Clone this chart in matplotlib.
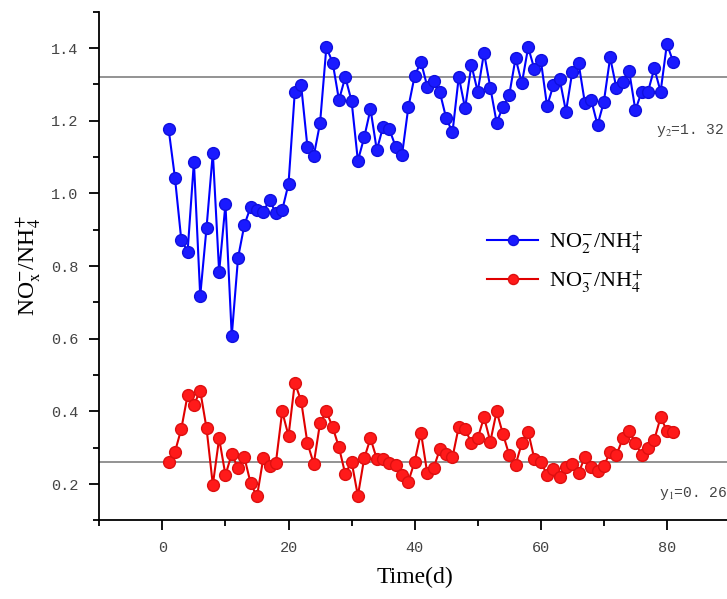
import numpy as np
import matplotlib
matplotlib.use("Agg")
import matplotlib.pyplot as plt
from matplotlib.ticker import MultipleLocator

plt.rcParams['font.family'] = ['Liberation Serif', 'DejaVu Serif']
plt.rcParams['mathtext.fontset'] = 'stix'

# Data
days = list(range(1, 82))

no2_nh4 = [1.176, 1.042, 0.872, 0.840, 1.087, 0.718, 0.905, 1.112, 0.784, 0.970,
           0.608, 0.823, 0.913, 0.963, 0.954, 0.950, 0.982, 0.945, 0.954, 1.026,
           1.280, 1.298, 1.128, 1.103, 1.193, 1.402, 1.360, 1.257, 1.320, 1.254,
           1.090, 1.154, 1.232, 1.119, 1.184, 1.176, 1.128, 1.106, 1.237, 1.323,
           1.362, 1.294, 1.309, 1.278, 1.207, 1.168, 1.321, 1.234, 1.353, 1.280,
           1.387, 1.291, 1.195, 1.238, 1.271, 1.372, 1.303, 1.402, 1.341, 1.367,
           1.240, 1.298, 1.314, 1.225, 1.335, 1.358, 1.248, 1.257, 1.188, 1.252,
           1.374, 1.289, 1.307, 1.338, 1.229, 1.280, 1.280, 1.344, 1.280, 1.411,
           1.362]

no3_nh4 = [0.262, 0.289, 0.352, 0.445, 0.418, 0.457, 0.354, 0.198, 0.326, 0.225,
           0.283, 0.244, 0.274, 0.202, 0.166, 0.271, 0.250, 0.259, 0.400, 0.333,
           0.479, 0.429, 0.313, 0.256, 0.368, 0.400, 0.357, 0.301, 0.228, 0.262,
           0.168, 0.271, 0.326, 0.269, 0.269, 0.257, 0.253, 0.225, 0.207, 0.262,
           0.342, 0.230, 0.244, 0.296, 0.283, 0.274, 0.358, 0.352, 0.313, 0.326,
           0.384, 0.317, 0.400, 0.338, 0.280, 0.253, 0.313, 0.344, 0.268, 0.262,
           0.225, 0.241, 0.220, 0.248, 0.256, 0.230, 0.276, 0.248, 0.237, 0.250,
           0.289, 0.280, 0.326, 0.347, 0.313, 0.280, 0.299, 0.322, 0.384, 0.347,
           0.344]

# mean lines
y2_mean = 1.32
y1_mean = 0.26

fig = plt.figure(figsize=(7.27, 5.99), dpi=100)
ax = fig.add_axes([0.1366, 0.1311, 0.8675, 0.8494])

ax.axhline(y2_mean, color='#808080', lw=1.2, zorder=1)
ax.axhline(y1_mean, color='#808080', lw=1.2, zorder=1)

ax.plot(days, no2_nh4, color='#0000ff', lw=1.5, marker='o', markersize=8.5,
        markeredgecolor='#1010dd', markerfacecolor='#1a1aff',
        label=r'NO$_2^{-}$/NH$_4^{+}$', zorder=3)
ax.plot(days, no3_nh4, color='#e00000', lw=1.5, marker='o', markersize=8.5,
        markeredgecolor='#dd1010', markerfacecolor='#ff1a1a',
        label=r'NO$_3^{-}$/NH$_4^{+}$', zorder=3)

ax.set_xlim(-10, 90)
ax.set_ylim(0.1, 1.5)
ax.xaxis.set_minor_locator(MultipleLocator(10))
ax.yaxis.set_minor_locator(MultipleLocator(0.1))
ax.set_xticks([0, 20, 40, 60, 80])
ax.set_yticks([0.2, 0.4, 0.6, 0.8, 1.0, 1.2, 1.4])

ax.spines['top'].set_visible(False)
ax.spines['right'].set_visible(False)
ax.spines['left'].set_linewidth(1.3)
ax.spines['bottom'].set_linewidth(1.3)

ax.tick_params(which='major', direction='out', length=7, width=1.3,
               labelsize=11, labelcolor='#444444', pad=8)
ax.tick_params(which='minor', direction='out', length=4, width=1.3)
for lab in ax.get_xticklabels() + ax.get_yticklabels():
    lab.set_family('Liberation Mono')

ax.set_xlabel('Time(d)', fontsize=17, labelpad=8)
ax.set_ylabel(r'NO$_\mathrm{x}^{-}$/NH$_4^{+}$', fontsize=17, labelpad=6)

ax.text(78.2, 1.172, r'y$_2$=1. 32', fontsize=10.5, color='#444444',
        family=['Liberation Mono', 'DejaVu Sans'], va='center')
ax.text(78.7, 0.173, r'y$_1$=0. 26', fontsize=10.5, color='#444444',
        family=['Liberation Mono', 'DejaVu Sans'], va='center')

leg = ax.legend(loc='upper left', bbox_to_anchor=(476 / 727, 1 - 218 / 599),
                bbox_transform=fig.transFigure, frameon=False, fontsize=16,
                handlelength=2.3, handletextpad=0.5, labelspacing=0.6,
                borderpad=0, markerscale=0.85)

fig.savefig('out.png', dpi=100)
